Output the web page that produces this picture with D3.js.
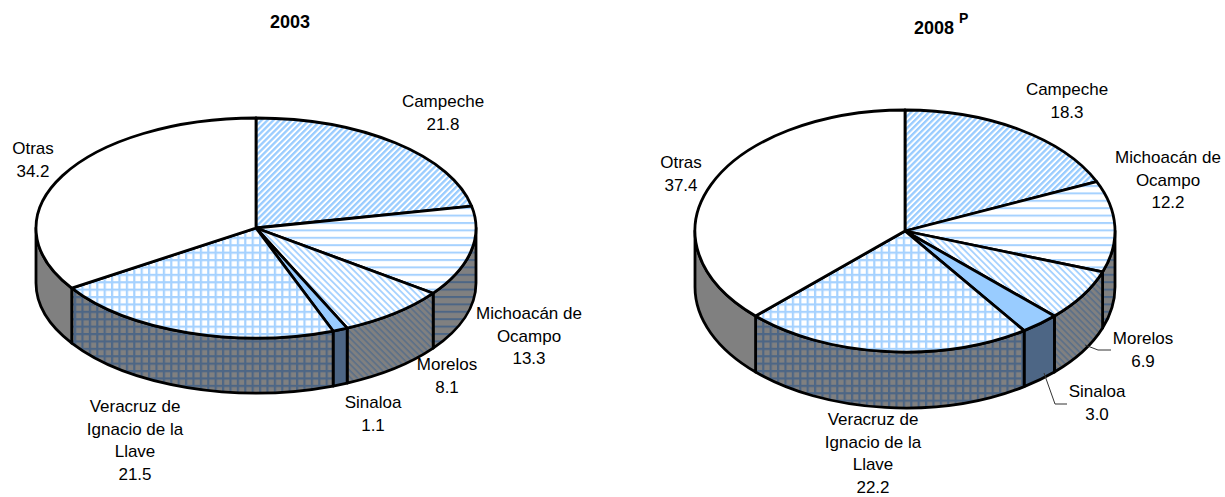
<!DOCTYPE html>
<html lang="es">
<head>
<meta charset="UTF-8">
<title>Pesca 2003 - 2008</title>
<script src="https://cdn.jsdelivr.net/npm/d3@7"></script>
<style>
body { margin: 0; background: #fff; }
text { font-family: "Liberation Sans", Arial, sans-serif; font-size: 17px; fill: #000; }
</style>
</head>
<body>
<script>

var width = 1225;
var height = 497;

// datos
var categories = ['Campeche', 'Michoacán de Ocampo', 'Morelos', 'Sinaloa', 'Veracruz de Ignacio de la Llave', 'Otras'];
var values2003 = [21.8, 13.3, 8.1, 1.1, 21.5, 34.2];
var values2008 = [18.3, 12.2, 6.9, 3.0, 22.2, 37.4];
var labelLines = [['Campeche'], ['Michoacán de', 'Ocampo'], ['Morelos'], ['Sinaloa'], ['Veracruz de', 'Ignacio de la', 'Llave'], ['Otras']];

var fillTop = ['url(#pCampTop)', 'url(#pMichTop)', 'url(#pMorTop)', '#99ccff', 'url(#pVerTop)', '#ffffff'];
var fillSide = ['url(#pCampSide)', 'url(#pMichSide)', 'url(#pMorSide)', '#4d6685', 'url(#pVerSide)', '#808080'];

var svg = d3.select('body')
    .append('svg')
    .attr('width', width)
    .attr('height', height)
    .style('display', 'block');

var defs = svg.append('defs');

// tramas
function stripes(id, bg, line, size, angle, w) {
    var p = defs.append('pattern')
        .attr('id', id)
        .attr('patternUnits', 'userSpaceOnUse')
        .attr('width', size)
        .attr('height', size)
        .attr('patternTransform', 'rotate(' + angle + ')');
    p.append('rect').attr('width', size).attr('height', size).attr('fill', bg);
    p.append('rect').attr('width', size).attr('height', w).attr('fill', line);
}
function grid(id, bg, line, size, w) {
    var p = defs.append('pattern')
        .attr('id', id)
        .attr('patternUnits', 'userSpaceOnUse')
        .attr('width', size)
        .attr('height', size);
    p.append('rect').attr('width', size).attr('height', size).attr('fill', bg);
    p.append('rect').attr('width', size).attr('height', w).attr('fill', line);
    p.append('rect').attr('width', w).attr('height', size).attr('fill', line);
}
stripes('pCampTop', '#ffffff', '#99ccff', 4.2, -45, 2.3);
stripes('pMichTop', '#ffffff', '#a6d2ff', 7.4, 0, 2);
stripes('pMorTop', '#ffffff', '#a6d2ff', 4.6, 45, 1.8);
grid('pVerTop', '#ffffff', '#a6d2ff', 7.4, 2.2);
stripes('pCampSide', '#808080', '#4d6685', 4.2, -45, 2.3);
stripes('pMichSide', '#808080', '#4d6685', 7.4, 0, 2);
stripes('pMorSide', '#808080', '#5a6f88', 4.6, 45, 1.6);
grid('pVerSide', '#808080', '#4d6685', 7.4, 2.2);

function drawPie(values, o) {
    var pie = d3.pie().sort(null).value(function (d) { return d; });
    var arcs = pie(values);
    var g = svg.append('g');

    // punto sobre la elipse, angulo medido desde arriba en sentido horario
    function px(a) { return o.cx + o.rx * Math.sin(a); }
    function py(a, dy) { return o.cy - o.ry * Math.cos(a) + (dy || 0); }

    function topPath(d) {
        var large = d.endAngle - d.startAngle > Math.PI ? 1 : 0;
        return 'M' + o.cx + ',' + o.cy +
            'L' + px(d.startAngle) + ',' + py(d.startAngle) +
            'A' + o.rx + ',' + o.ry + ' 0 ' + large + ' 1 ' + px(d.endAngle) + ',' + py(d.endAngle) + 'Z';
    }

    function sidePath(d) {
        var a0 = Math.max(d.startAngle, Math.PI / 2);
        var a1 = Math.min(d.endAngle, Math.PI * 1.5);
        if (a1 <= a0) return null;
        return 'M' + px(a0) + ',' + py(a0) +
            'A' + o.rx + ',' + o.ry + ' 0 0 1 ' + px(a1) + ',' + py(a1) +
            'L' + px(a1) + ',' + py(a1, o.depth) +
            'A' + o.rx + ',' + o.ry + ' 0 0 0 ' + px(a0) + ',' + py(a0, o.depth) + 'Z';
    }

    g.selectAll('path.side')
        .data(arcs)
        .enter()
        .append('path')
        .attr('class', 'side')
        .attr('d', sidePath)
        .attr('fill', function (d, i) { return fillSide[i]; })
        .attr('stroke', '#000')
        .attr('stroke-width', 2.8)
        .attr('stroke-linejoin', 'round');

    g.selectAll('path.top')
        .data(arcs)
        .enter()
        .append('path')
        .attr('class', 'top')
        .attr('d', topPath)
        .attr('fill', function (d, i) { return fillTop[i]; })
        .attr('stroke', '#000')
        .attr('stroke-width', 2.8)
        .attr('stroke-linejoin', 'round');

    // lineas guia
    o.leaders.forEach(function (pts) {
        g.append('path')
            .attr('d', d3.line()(pts))
            .attr('fill', 'none')
            .attr('stroke', '#333')
            .attr('stroke-width', 1);
    });

    // etiquetas
    values.forEach(function (v, i) {
        var lines = labelLines[i].concat(v.toFixed(1));
        var t = g.append('text').attr('text-anchor', 'middle');
        lines.forEach(function (s, j) {
            t.append('tspan')
                .attr('x', o.labels[i][0])
                .attr('y', o.labels[i][1] + j * 22.5)
                .text(s);
        });
    });

    // titulo
    svg.append('text')
        .attr('x', o.titleX)
        .attr('y', o.titleY)
        .attr('text-anchor', 'middle')
        .style('font-weight', 'bold')
        .style('font-size', '18px')
        .text(o.title);
    if (o.sup) {
        svg.append('text')
            .attr('x', o.titleX + 25)
            .attr('y', o.titleY - 11)
            .style('font-weight', 'bold')
            .style('font-size', '14px')
            .text(o.sup);
    }
}

drawPie(values2003, {
    cx: 256, cy: 228, rx: 220, ry: 110, depth: 55,
    title: '2003', titleX: 290, titleY: 28,
    labels: [[443, 107], [529, 319], [447, 370], [373, 408], [135, 412], [33, 154]],
    leaders: []
});

drawPie(values2008, {
    cx: 905, cy: 231, rx: 210, ry: 121, depth: 56,
    title: '2008', sup: 'P', titleX: 934, titleY: 34,
    labels: [[1067, 95], [1168, 163], [1143, 344], [1097, 397], [873, 425], [681, 168]],
    leaders: [[[1085, 345], [1098, 350], [1111, 350]], [[1044, 373], [1055, 404], [1067, 404]]]
});

</script>
</body>
</html>
